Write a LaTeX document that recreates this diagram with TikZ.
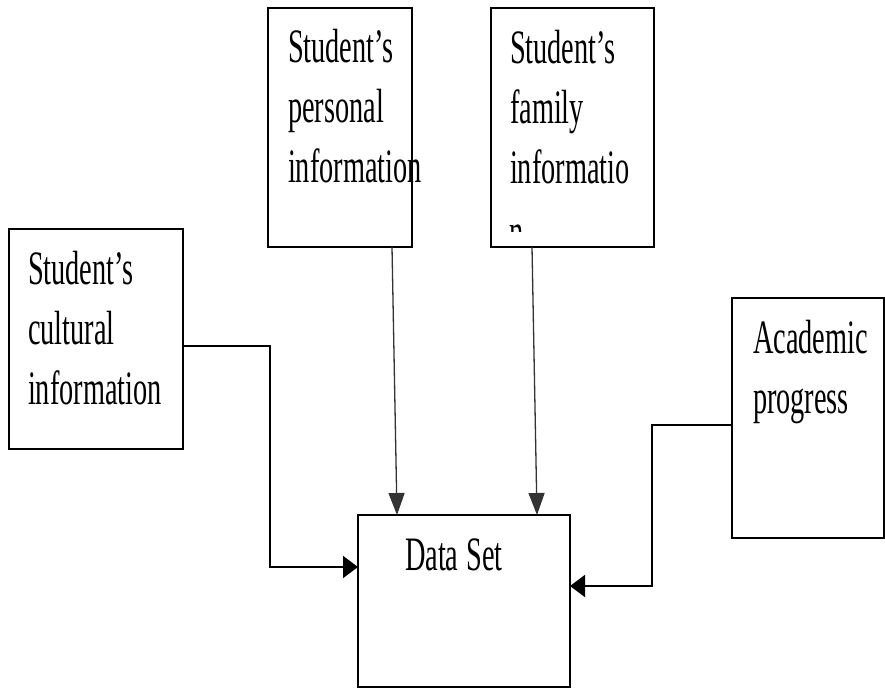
\documentclass[tikz,border=0pt]{standalone}
\usepackage{fontspec}
\usetikzlibrary{arrows.meta}
\newfontfamily\boxfont[FakeStretch=0.59]{Liberation Serif}

\tikzset{
  box/.style={draw=black, line width=2.2pt, anchor=north west, inner sep=0pt, outer sep=0pt},
  label/.style={anchor=base west, inner sep=0pt, outer sep=0pt, text width=220pt, align=left,
    font=\boxfont\fontsize{48}{60}\selectfont,
    execute at begin node={\spaceskip=8pt\relax}},
  feed/.style={draw=black!80, line width=1.3pt, -{Triangle[length=22pt, width=16pt]}},
  elbow/.style={draw=black, line width=1.8pt, -{Triangle[length=15pt, width=22pt]}},
}

\begin{document}
\begin{tikzpicture}[x=1pt, y=-1pt]
  \useasboundingbox (0,0) rectangle (885,689);

  % source boxes
  \node[box, minimum width=144pt, minimum height=239pt] (personal) at (268,8) {};
  \node[box, minimum width=163pt, minimum height=239pt] (family)   at (491,8) {};
  \node[box, minimum width=174pt, minimum height=220pt] (cultural) at (9,229) {};
  \node[box, minimum width=152pt, minimum height=240pt] (academic) at (732,298) {};
  % target box
  \node[box, minimum width=212pt, minimum height=172pt] (data)     at (358,515) {};

  % box texts
  \node[label] (personal-t) at (288,62)  {Student’s\\personal\\information};
  \node[label] (family-t)   at (510,63)  {Student’s\\family\\informatio};
  \node[label] (cultural-t) at (28,284)  {Student’s\\cultural\\information};
  \node[label] (academic-t) at (753,353) {Academic\\progress};
  \node[label] (data-t)     at (405,570) {Data Set};

  % last letter of the family label, cut off by the box
  \begin{scope}
    \clip (495,212) rectangle (650,231);
    \node[label] (family-n) at (509,247) {n};
  \end{scope}

  % straight feeds from above
  \draw[feed] ([xshift=124pt]personal.south west) -- ([xshift=39pt]data.north west);
  \draw[feed] ([xshift=41pt]family.south west)    -- ([xshift=179pt]data.north west);

  % elbow feeds from the sides
  \draw[elbow] ([yshift=-7pt]cultural.east)
    -| ([xshift=-88pt, yshift=34pt]data.west) -- ([yshift=34pt]data.west);
  \draw[elbow] ([yshift=-7pt]academic.west)
    -| ([xshift=82pt, yshift=15pt]data.east) -- ([yshift=15pt]data.east);
\end{tikzpicture}
\end{document}
